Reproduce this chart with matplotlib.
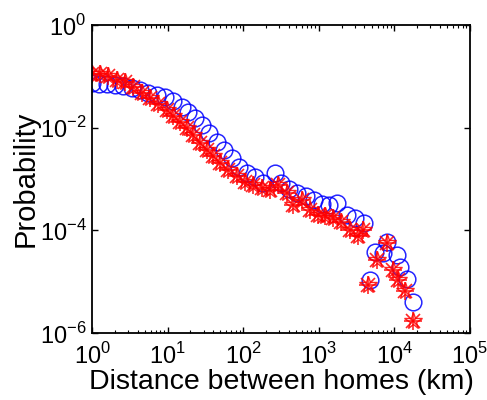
import matplotlib
matplotlib.use("Agg")
import matplotlib.pyplot as plt
from matplotlib.ticker import LogLocator, NullLocator, FixedLocator
import numpy as np

# log10 of distance / probability
blue_logx = [0.0, 0.097, 0.194, 0.304, 0.414, 0.525, 0.635, 0.745, 0.855, 0.966,
             1.076, 1.186, 1.274, 1.362, 1.451, 1.552, 1.649, 1.746, 1.847, 1.949,
             2.055, 2.156, 2.266, 2.42, 2.496, 2.61, 2.716, 2.83, 2.936, 3.038,
             3.139, 3.236, 3.37, 3.48, 3.60, 3.677, 3.743, 3.85, 3.898, 4.03,
             4.074, 4.163, 4.25]
blue_logy = [-1.13, -1.15, -1.15, -1.17, -1.19, -1.23, -1.27, -1.32, -1.36, -1.41,
             -1.49, -1.59, -1.70, -1.82, -1.95, -2.11, -2.27, -2.43, -2.59, -2.76,
             -2.89, -2.96, -3.07, -2.89, -3.08, -3.20, -3.28, -3.34, -3.41, -3.48,
             -3.50, -3.46, -3.70, -3.76, -3.85, -4.97, -4.42, -4.44, -4.22, -4.48,
             -4.71, -4.94, -5.39]

red_logx = [0.0, 0.106, 0.216, 0.326, 0.437, 0.547, 0.657, 0.767, 0.877, 0.988,
            1.076, 1.164, 1.252, 1.34, 1.43, 1.517, 1.605, 1.693, 1.80, 1.914,
            2.024, 2.134, 2.244, 2.355, 2.465, 2.575, 2.663, 2.773, 2.884, 2.994,
            3.08, 3.19, 3.30, 3.41, 3.52, 3.59, 3.655, 3.765, 3.90, 3.985,
            4.05, 4.14, 4.25]
red_logy = [-0.96, -0.95, -0.99, -1.07, -1.12, -1.21, -1.32, -1.43, -1.54, -1.65,
            -1.78, -1.88, -2.01, -2.14, -2.30, -2.43, -2.56, -2.69, -2.82, -2.95,
            -3.05, -3.11, -3.18, -3.21, -3.11, -3.27, -3.50, -3.40, -3.60, -3.70,
            -3.73, -3.76, -3.83, -3.99, -4.12, -3.99, -5.06, -4.57, -4.25, -4.77,
            -4.96, -5.19, -5.77]

plt.rcParams['font.family'] = ['Liberation Sans', 'DejaVu Sans']
plt.rcParams['mathtext.fontset'] = 'custom'
plt.rcParams['mathtext.rm'] = 'Liberation Sans'

fig = plt.figure(figsize=(4.87, 4.0), dpi=100)
ax = fig.add_axes([0.189, 0.1675, 0.776, 0.77])

ax.plot(10 ** np.array(blue_logx), 10 ** np.array(blue_logy), 'o', ms=12,
        mfc='none', mec='#0000ff', mew=1.1, alpha=0.85)
ax.plot(10 ** np.array(red_logx), 10 ** np.array(red_logy), '*', ms=13,
        mfc='none', mec='#ff0000', mew=1.0, alpha=0.85)
ax.plot(10 ** np.array(red_logx), 10 ** np.array(red_logy), '+', ms=13,
        color='#ff0000', mew=1.2, alpha=0.85)
ax.plot(10 ** np.array(red_logx), 10 ** np.array(red_logy), 'x', ms=10,
        color='#ff0000', mew=1.2, alpha=0.85)

ax.set_xscale('log')
ax.set_yscale('log')
ax.set_xlim(1, 1e5)
ax.set_ylim(1e-6, 1)

ax.xaxis.set_major_locator(FixedLocator([1, 10, 100, 1e3, 1e4, 1e5]))
ax.xaxis.set_minor_locator(LogLocator(base=10, subs=np.arange(2, 10), numticks=20))
ax.yaxis.set_major_locator(FixedLocator([1e-6, 1e-4, 1e-2, 1]))
ax.yaxis.set_minor_locator(NullLocator())
ax.set_xticklabels([r'$10^{%d}$' % k for k in range(6)])
ax.set_yticklabels([r'$10^{%d}$' % k for k in (-6, -4, -2, 0)])

ax.tick_params(which='both', direction='in', top=True, right=True, labelsize=17)
ax.tick_params(axis='x', pad=7)
ax.tick_params(axis='y', pad=4)
ax.tick_params(which='major', length=4, width=1)
ax.tick_params(which='minor', length=2, width=0.8)
for s in ax.spines.values():
    s.set_linewidth(1.3)

ax.set_xlabel('Distance between homes (km)', fontsize=20.5, labelpad=0)
ax.set_ylabel('Probability', fontsize=21, labelpad=0)

fig.savefig('out.png', dpi=100)
